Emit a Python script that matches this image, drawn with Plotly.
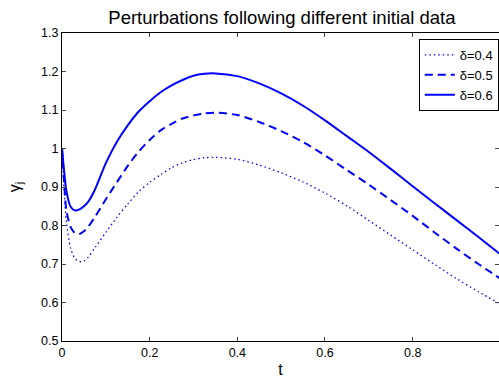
import plotly.graph_objects as go

t = [0, 0.005, 0.01, 0.02, 0.03, 0.04, 0.05, 0.06, 0.075, 0.1, 0.125, 0.15, 0.175, 0.2,
     0.225, 0.25, 0.275, 0.3, 0.325, 0.35, 0.4, 0.45, 0.5, 0.55, 0.6, 0.65, 0.7, 0.75,
     0.8, 0.85, 0.9, 0.95, 1.0]
gamma_04 = [1.0, 0.89, 0.81, 0.740, 0.714, 0.706, 0.708, 0.718, 0.742, 0.782, 0.821, 0.856,
            0.888, 0.912, 0.932, 0.950, 0.963, 0.971, 0.976, 0.977, 0.972, 0.957, 0.937,
            0.913, 0.884, 0.851, 0.813, 0.775, 0.737, 0.699, 0.662, 0.628, 0.596]
gamma_05 = [1.0, 0.91, 0.84, 0.795, 0.780, 0.778, 0.785, 0.797, 0.822, 0.868, 0.912, 0.955,
            0.992, 1.022, 1.047, 1.064, 1.078, 1.086, 1.091, 1.093, 1.087, 1.069, 1.045,
            1.017, 0.982, 0.944, 0.906, 0.866, 0.825, 0.782, 0.740, 0.700, 0.662]
gamma_06 = [1.0, 0.94, 0.89, 0.848, 0.839, 0.842, 0.850, 0.862, 0.893, 0.962, 1.017, 1.060,
            1.096, 1.123, 1.146, 1.164, 1.178, 1.189, 1.194, 1.195, 1.188, 1.169, 1.143,
            1.111, 1.073, 1.032, 0.991, 0.947, 0.902, 0.858, 0.814, 0.770, 0.725]
labels = ["δ=0.4", "δ=0.5", "δ=0.6"]
x_ticks = [0, 0.2, 0.4, 0.6, 0.8]
x_tick_text = ["0", "0.2", "0.4", "0.6", "0.8"]
y_ticks = [0.5, 0.6, 0.7, 0.8, 0.9, 1, 1.1, 1.2, 1.3]
y_tick_text = ["0.5", "0.6", "0.7", "0.8", "0.9", "1", "1.1", "1.2", "1.3"]

FONT = "Liberation Sans, Arial, sans-serif"
fig = go.Figure()
styles = [dict(dash="1.5px,3px", width=1.3), dict(dash="8px,5px", width=2), dict(dash="solid", width=2)]
for y, lab, st in zip([gamma_04, gamma_05, gamma_06], labels, styles):
    fig.add_trace(go.Scatter(x=t, y=y, mode="lines", name=lab, line_shape="spline",
                             line=dict(color="#0000FF", smoothing=0.8, **st)))
fig.add_trace(go.Scatter(x=[0], y=[None], yaxis="y2", showlegend=False, hoverinfo="skip"))

fig.update_layout(
    width=499, height=379,
    margin=dict(l=62, r=0, t=33, b=38, autoexpand=False),
    paper_bgcolor="white", plot_bgcolor="white",
    font=dict(family=FONT, size=12.5, color="black"),
    title=dict(text="Perturbations following different initial data", x=0.565, xanchor="center",
               y=0.955, yanchor="middle", font=dict(size=18.5, family=FONT)),
    xaxis=dict(range=[0, 0.997], tickvals=x_ticks, ticktext=x_tick_text, automargin=False,
               ticks="inside", ticklen=4, showline=True, linecolor="black", linewidth=1,
               mirror="ticks", showgrid=False, zeroline=False, tickfont=dict(size=12.5),
               title=dict(text="t", standoff=4, font=dict(size=16))),
    yaxis=dict(range=[0.5, 1.3], tickvals=y_ticks, ticktext=y_tick_text, automargin=False,
               ticks="inside", ticklen=4, showline=True, linecolor="black", linewidth=1,
               showgrid=False, zeroline=False, tickfont=dict(size=12.5),
               title=dict(text="γ<sub>j</sub>", standoff=16, font=dict(size=16))),
    yaxis2=dict(range=[0.5, 1.3], overlaying="y", side="right", tickvals=y_ticks, automargin=False,
                ticks="inside", ticklen=4, showticklabels=False, showline=False,
                showgrid=False, zeroline=False),
    legend=dict(x=0.9995, xanchor="right", y=0.9805, yanchor="top", bgcolor="white",
                bordercolor="black", borderwidth=1, font=dict(size=13),
                tracegroupgap=0, itemwidth=30),
    showlegend=True,
)
fig.write_html("out.html", config={"displayModeBar": False},
               post_script="document.body.style.margin='0';")
